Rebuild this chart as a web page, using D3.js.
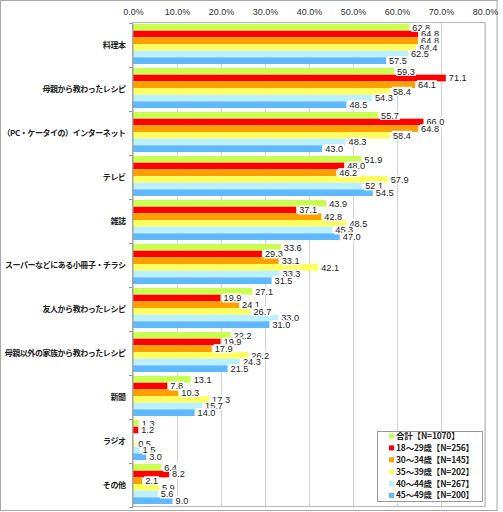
<!DOCTYPE html>
<html><head><meta charset="utf-8">
<script src="https://cdn.jsdelivr.net/npm/d3@7"></script>
<style>
body{margin:0;background:#fff;}
svg{display:block;}
.cat{font-family:"Noto Sans CJK JP",sans-serif;font-weight:bold;font-size:8px;fill:#222;letter-spacing:-0.45px;}
.val{font-family:"Liberation Sans",Arial,sans-serif;font-size:9.2px;fill:#222;}
.ax{font-family:"Liberation Sans",Arial,sans-serif;font-size:9px;fill:#333;}
.leg{font-family:"Noto Sans CJK JP",sans-serif;font-weight:bold;font-size:8.5px;fill:#222;letter-spacing:-0.2px;}
</style></head>
<body>
<svg id="c" width="503" height="512"></svg>
<script>
const categories = ["料理本","母親から教わったレシピ","（PC・ケータイの）インターネット","テレビ","雑誌","スーパーなどにある小冊子・チラシ","友人から教わったレシピ","母親以外の家族から教わったレシピ","新聞","ラジオ","その他"];
const seriesNames = ["合計【N=1070】","18～29歳【N=256】","30～34歳【N=145】","35～39歳【N=202】","40～44歳【N=267】","45～49歳【N=200】"];
const total   = [62.8,59.3,55.7,51.9,43.9,33.6,27.1,22.2,13.1,1.3,6.4];
const age1829 = [64.8,71.1,66.0,48.0,37.1,29.3,19.9,19.9,7.8,1.2,8.2];
const age3034 = [64.8,64.1,64.8,46.2,42.8,33.1,24.1,17.9,10.3,0.0,2.1];
const age3539 = [64.4,58.4,58.4,57.9,48.5,42.1,26.7,26.2,17.3,0.5,5.9];
const age4044 = [62.5,54.3,48.3,52.1,45.3,33.3,33.0,24.3,15.7,1.5,5.6];
const age4549 = [57.5,48.5,43.0,54.5,47.0,31.5,31.0,21.5,14.0,3.0,9.0];
const xTicks = [0,10,20,30,40,50,60,70,80];
const colors = ["#C8FF50","#FF0000","#FFA000","#FFFF60","#BBF0FF","#60B8FF"];

const seriesValues = [total,age1829,age3034,age3539,age4044,age4549];
const svg = d3.select("#c");
const L=133, R=485, T=23, B=507;

svg.append("rect").attr("x",0.5).attr("y",0.5).attr("width",496.5).attr("height",510)
  .attr("fill","none").attr("stroke","#a8a8a8");

const x = d3.scaleLinear().domain([0,80]).range([L,R]);
const y = d3.scaleBand().domain(categories).range([T,B]).padding(0);
const ys = d3.scaleBand().domain(d3.range(6)).range([1,41]).padding(0);

svg.append("g").selectAll("line").data(xTicks.slice(1)).join("line")
  .attr("x1",d=>Math.round(x(d))+0.5).attr("x2",d=>Math.round(x(d))+0.5)
  .attr("y1",T).attr("y2",B).attr("stroke","#d4d4d4");

const xa = d3.axisTop(x).tickValues(xTicks).tickSize(0).tickPadding(0).tickFormat(d=>d.toFixed(1)+"%");
const gx = svg.append("g").attr("transform",`translate(0,15)`).call(xa);
gx.select(".domain").remove();
gx.selectAll("text").attr("class","ax").attr("font-family",null).attr("font-size",null).attr("fill",null).attr("dy","0");

svg.append("rect").attr("x",L-0.5).attr("y",T-0.5).attr("width",R-L+0.5).attr("height",B-T)
  .attr("fill","none").attr("stroke","#b8b8b8");

const rows = [];
categories.forEach((c,i)=>seriesValues.forEach((arr,s)=>rows.push({c,s,v:arr[i]})));
svg.append("g").selectAll("rect").data(rows.filter(d=>d.v>0)).join("rect")
  .attr("x",L).attr("y",d=>y(d.c)+ys(d.s)).attr("width",d=>x(d.v)-L)
  .attr("height",ys.bandwidth()).attr("fill",d=>colors[d.s]);

const ya = d3.axisLeft(y).tickSize(0).tickPadding(7);
const gy = svg.append("g").attr("transform",`translate(${L-0.5},0)`).call(ya);
gy.select(".domain").attr("stroke","#999");
gy.selectAll("text").attr("class","cat").attr("font-family",null).attr("font-size",null).attr("fill",null);
svg.append("g").selectAll("line").data(d3.range(categories.length+1)).join("line")
  .attr("x1",L-4).attr("x2",L).attr("y1",i=>T+i*y.step()+0.5).attr("y2",i=>T+i*y.step()+0.5)
  .attr("stroke","#999");

const lg = svg.append("g");
rows.filter(d=>d.v>0).forEach(d=>{
  const cx = x(d.v)+2, cy = y(d.c)+ys(d.s)+ys.bandwidth()/2;
  const t = lg.append("text").attr("class","val").attr("x",cx+1).attr("y",cy).attr("dy","0.35em").text(d.v.toFixed(1));
  const bb = t.node().getBBox();
  lg.insert("rect","text:last-child").attr("x",bb.x-1).attr("y",cy-4.5).attr("width",bb.width+2).attr("height",9).attr("fill","#fff");
});

const lgx=377, lgy=431;
svg.append("rect").attr("x",lgx+0.5).attr("y",lgy+0.5).attr("width",105).attr("height",70)
  .attr("fill","#fff").attr("stroke","#999");
const li = svg.append("g").selectAll("g").data(seriesNames).join("g")
  .attr("transform",(d,i)=>`translate(${lgx+12},${lgy+5+i*11.9})`);
li.append("rect").attr("x",0).attr("y",-2.5).attr("width",5).attr("height",5).attr("fill",(d,i)=>colors[i]);
li.append("text").attr("class","leg").attr("x",7).attr("y",0).attr("dy","0.35em").text(d=>d);
</script>
</body></html>
